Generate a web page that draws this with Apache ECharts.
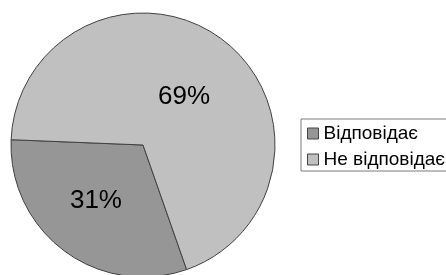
<!DOCTYPE html>
<html>
<head>
<meta charset="utf-8">
<script src="https://cdn.jsdelivr.net/npm/echarts@6/dist/echarts.min.js"></script>
<style>
  html, body { margin: 0; padding: 0; background: #fff; }
  #chart { width: 446px; height: 275px; }
</style>
</head>
<body>
<div id="chart"></div>
<script>
// categories and shares (percent)
var categories = ['Відповідає', 'Не відповідає'];
var shares = [31, 69];
var colors = ['#969696', '#c0c0c0'];
var labelShift = [[-6, 0], [0, 7]];

var font = 'Liberation Sans, Arial, sans-serif';
var chart = echarts.init(document.getElementById('chart'), null, {renderer: 'canvas'});

var option = {
  animation: false,
  legend: {
    orient: 'vertical',
    left: 301,
    top: 119,
    padding: [5, 10, 2, 6],
    itemGap: 7,
    itemWidth: 11,
    itemHeight: 11,
    icon: 'rect',
    borderColor: '#7a7a7a',
    borderWidth: 1,
    textStyle: {fontSize: 19, fontFamily: font, color: '#000'},
    itemStyle: {borderColor: '#444', borderWidth: 1},
    data: categories
  },
  series: [{
    type: 'pie',
    center: [143, 145],
    radius: 132,
    startAngle: 289.3,
    clockwise: true,
    silent: true,
    itemStyle: {borderColor: '#404040', borderWidth: 1},
    label: {
      position: 'inside',
      color: '#000',
      fontSize: 26,
      fontFamily: font,
      formatter: '{c}%'
    },
    labelLine: {show: false},
    data: categories.map(function (name, i) {
      return {
        name: name,
        value: shares[i],
        itemStyle: {color: colors[i]},
        label: {offset: labelShift[i]}
      };
    })
  }]
};

chart.setOption(option);
</script>
</body>
</html>
